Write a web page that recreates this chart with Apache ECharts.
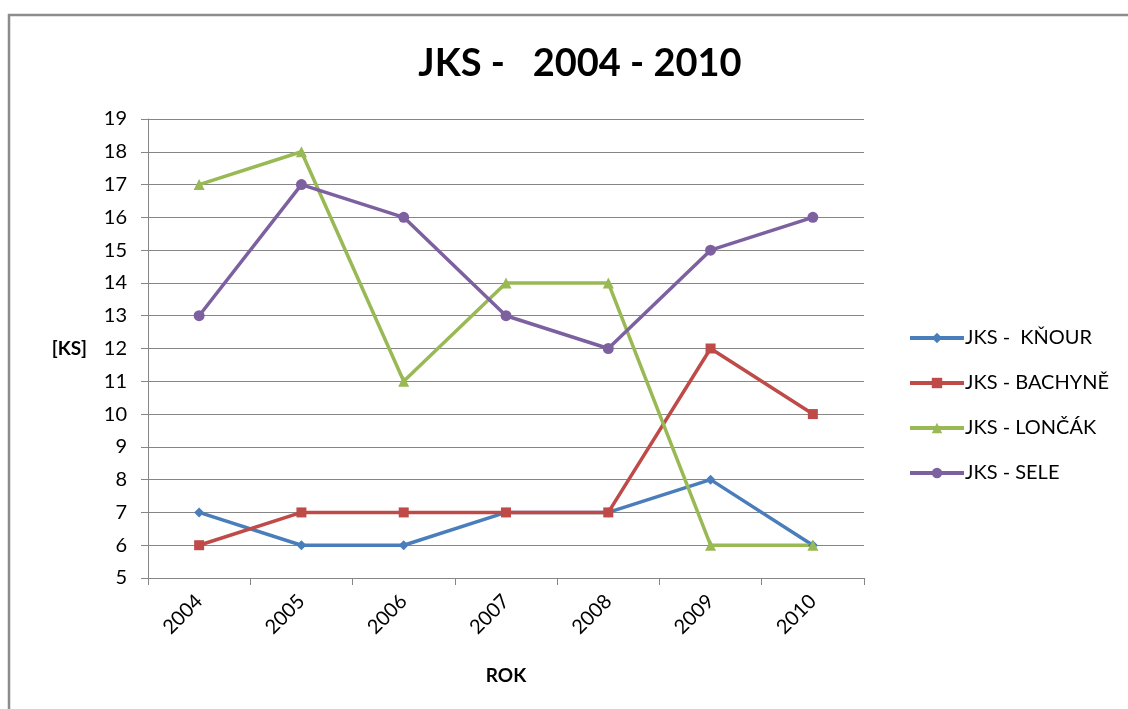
<!DOCTYPE html>
<html>
<head>
<meta charset="utf-8">
<script src="https://cdn.jsdelivr.net/npm/echarts@6/dist/echarts.min.js"></script>
<style>
  html, body { margin: 0; padding: 0; background: #fff; }
  #chart { width: 1128px; height: 709px; }
</style>
</head>
<body>
<div id="chart"></div>
<script>
const years = ['2004', '2005', '2006', '2007', '2008', '2009', '2010'];
const knour = [7, 6, 6, 7, 7, 8, 6];
const bachyne = [6, 7, 7, 7, 7, 12, 10];
const loncak = [17, 18, 11, 14, 14, 6, 6];
const sele = [13, 17, 16, 13, 12, 15, 16];

const FONT = 'Lato, "Open Sans", sans-serif';

const chart = echarts.init(document.getElementById('chart'));

const mkSeries = (name, data, color, symbol, size) => ({
  name,
  type: 'line',
  data,
  symbol,
  symbolSize: size,
  showAllSymbol: true,
  lineStyle: { color, width: 3.5 },
  itemStyle: { color, borderWidth: 0 },
  emphasis: { disabled: true }
});

chart.setOption({
  animation: false,
  backgroundColor: '#fff',
  textStyle: { fontFamily: FONT },
  graphic: [
    {
      type: 'rect',
      shape: { x: 9, y: 15, width: 1300, height: 900 },
      style: { fill: 'none', stroke: '#8c8c8c', lineWidth: 2.5 },
      silent: true,
      z: -1
    }
  ],
  title: {
    text: 'JKS -   2004 - 2010',
    left: 575,
    top: 40,
    textAlign: 'center',
    textStyle: { fontFamily: FONT, fontSize: 38, fontWeight: 'bold', color: '#000' }
  },
  legend: {
    orient: 'vertical',
    left: 903,
    top: 323,
    itemWidth: 54,
    itemHeight: 13,
    itemGap: 25,
    lineStyle: { width: 4 },
    textStyle: { fontFamily: FONT, fontSize: 20, color: '#000', padding: [0, 0, 0, -4] },
    data: ['JKS -  KŇOUR', 'JKS - BACHYNĚ', 'JKS - LONČÁK', 'JKS - SELE']
  },
  grid: { left: 148, right: 264, top: 119, bottom: 131 },
  xAxis: {
    type: 'category',
    data: years,
    boundaryGap: true,
    name: 'ROK',
    nameLocation: 'middle',
    nameGap: 88,
    nameTextStyle: { fontFamily: FONT, fontSize: 19, fontWeight: 'bold', color: '#000' },
    axisLine: { lineStyle: { color: '#868686', width: 1 } },
    axisTick: { show: true, length: 7, alignWithLabel: false, lineStyle: { color: '#868686' } },
    axisLabel: { rotate: 45, fontSize: 20, color: '#000', margin: 20, fontFamily: FONT }
  },
  yAxis: {
    type: 'value',
    min: 5,
    max: 19,
    interval: 1,
    name: '[KS]',
    nameLocation: 'middle',
    nameRotate: 0,
    nameGap: 61,
    nameTextStyle: { fontFamily: FONT, fontSize: 19, fontWeight: 'bold', color: '#000' },
    axisLine: { show: true, lineStyle: { color: '#868686', width: 1 } },
    axisTick: { show: true, length: 7, lineStyle: { color: '#868686' } },
    axisLabel: { fontSize: 20, color: '#000', margin: 21, fontFamily: FONT },
    splitLine: { show: true, lineStyle: { color: '#868686', width: 1 } }
  },
  series: [
    mkSeries('JKS -  KŇOUR', knour, '#4A7EBB', 'diamond', 10),
    mkSeries('JKS - BACHYNĚ', bachyne, '#BE4B48', 'rect', 10),
    mkSeries('JKS - LONČÁK', loncak, '#98B954', 'triangle', 11),
    mkSeries('JKS - SELE', sele, '#7D60A0', 'circle', 11)
  ]
});
</script>
</body>
</html>
